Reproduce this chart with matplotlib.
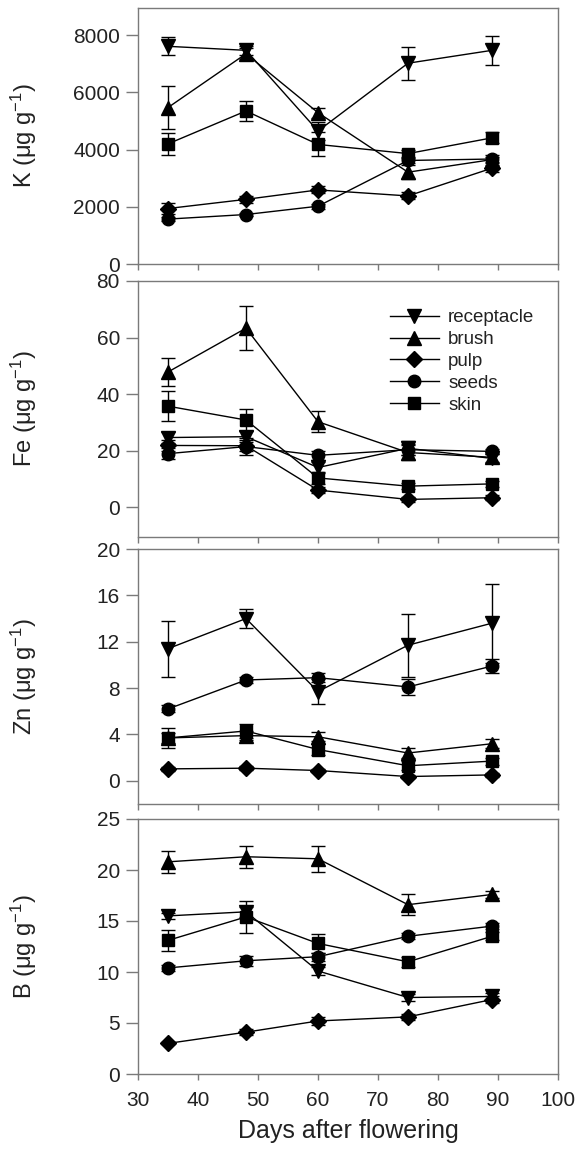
import numpy as np
import matplotlib
matplotlib.use('Agg')
import matplotlib.pyplot as plt
from matplotlib.lines import Line2D

plt.rcParams['font.family'] = ['Liberation Sans', 'DejaVu Sans']
plt.rcParams['mathtext.fontset'] = 'custom'
plt.rcParams['mathtext.rm'] = 'Liberation Sans'
plt.rcParams['mathtext.it'] = 'Liberation Sans:italic'

days = [35, 48, 60, 75, 89]
tissues = ['receptacle', 'brush', 'pulp', 'seeds', 'skin']
markers = {'receptacle': 'v', 'brush': '^', 'pulp': 'D', 'seeds': 'o', 'skin': 's'}
msizes = {'receptacle': 9.5, 'brush': 9.5, 'pulp': 8, 'seeds': 9, 'skin': 8.5}

# K (ug/g)
K_vals = {'receptacle': [7610, 7470, 4650, 7020, 7470],
          'brush':      [5470, 7350, 5290, 3210, 3650],
          'pulp':       [1940, 2260, 2590, 2380, 3350],
          'seeds':      [1570, 1730, 2020, 3620, 3670],
          'skin':       [4200, 5350, 4180, 3860, 4410]}
K_err = {'receptacle': [320, 150, 300, 580, 500],
         'brush':      [740, 200, 170, 250, 100],
         'pulp':       [200, 130, 120, 120, 120],
         'seeds':      [80, 60, 80, 100, 150],
         'skin':       [390, 340, 420, 120, 190]}

# Fe
Fe_vals = {'receptacle': [24.6, 24.9, 14.0, 20.8, 17.2],
           'brush':      [47.8, 63.3, 30.2, 19.3, 17.6],
           'pulp':       [21.8, 21.7, 6.0, 2.7, 3.3],
           'seeds':      [18.9, 21.4, 18.3, 20.3, 19.7],
           'skin':       [35.7, 30.8, 10.3, 7.4, 8.2]}
Fe_err = {'receptacle': [2.0, 2.0, 2.0, 2.5, 1.5],
          'brush':      [4.8, 7.7, 3.7, 2.5, 1.5],
          'pulp':       [2.0, 2.0, 1.0, 0.8, 0.8],
          'seeds':      [2.0, 3.0, 1.5, 2.0, 1.0],
          'skin':       [5.2, 4.0, 2.0, 1.0, 1.0]}

# Zn
Zn_vals = {'receptacle': [11.4, 14.0, 7.7, 11.7, 13.6],
           'brush':      [3.7, 3.9, 3.8, 2.4, 3.2],
           'pulp':       [1.03, 1.09, 0.89, 0.37, 0.51],
           'seeds':      [6.2, 8.7, 8.9, 8.1, 9.9],
           'skin':       [3.7, 4.3, 2.7, 1.3, 1.7]}
Zn_err = {'receptacle': [2.4, 0.85, 1.1, 2.7, 3.4],
          'brush':      [0.4, 0.4, 0.4, 0.4, 0.4],
          'pulp':       [0.15, 0.15, 0.15, 0.15, 0.15],
          'seeds':      [0.3, 0.3, 0.4, 0.7, 0.6],
          'skin':       [0.9, 0.6, 0.5, 0.4, 0.3]}

# B
B_vals = {'receptacle': [15.5, 15.9, 10.1, 7.5, 7.6],
          'brush':      [20.8, 21.3, 21.1, 16.6, 17.6],
          'pulp':       [3.0, 4.1, 5.2, 5.6, 7.3],
          'seeds':      [10.4, 11.1, 11.5, 13.5, 14.5],
          'skin':       [13.1, 15.4, 12.8, 11.0, 13.5]}
B_err = {'receptacle': [0.3, 0.5, 0.4, 0.3, 0.3],
         'brush':      [1.1, 1.1, 1.3, 1.0, 0.3],
         'pulp':       [0.1, 0.3, 0.4, 0.3, 0.3],
         'seeds':      [0.3, 0.5, 0.4, 0.3, 0.3],
         'skin':       [1.05, 1.6, 0.95, 0.5, 0.4]}

panels = [
    ('K', K_vals, K_err, (0, 8950), [0, 2000, 4000, 6000, 8000], (8, 264)),
    ('Fe', Fe_vals, Fe_err, (-10.6, 80), [0, 20, 40, 60, 80], (281, 537)),
    ('Zn', Zn_vals, Zn_err, (-2, 20), [0, 4, 8, 12, 16, 20], (549, 804)),
    ('B', B_vals, B_err, (0, 25), [0, 5, 10, 15, 20, 25], (819, 1074)),
]

W, H = 580, 1149
fig = plt.figure(figsize=(W / 100, H / 100), dpi=100)
spine_col = '#7a7a7a'
text_col = '#222222'
left_px, right_px = 138, 558

axes = []
for i, (name, vals, errs, ylim, yticks, (top_px, bot_px)) in enumerate(panels):
    ax = fig.add_axes([left_px / W, 1 - bot_px / H, (right_px - left_px) / W, (bot_px - top_px) / H])
    for t in tissues:
        ax.errorbar(days, vals[t], yerr=errs[t], color='black', marker=markers[t],
                    markersize=msizes[t], linewidth=1.0, elinewidth=1.0, capsize=5,
                    capthick=1.0, label=t)
    ax.set_xlim(30, 100)
    ax.set_ylim(*ylim)
    ax.set_xticks(range(30, 101, 10))
    ax.set_yticks(yticks)
    for s in ax.spines.values():
        s.set_color(spine_col)
        s.set_linewidth(1.0)
    ax.tick_params(axis='y', direction='out', length=9, width=1.0, color=spine_col,
                   labelsize=15, labelcolor=text_col, pad=4)
    ax.tick_params(axis='x', direction='out', length=4.5, width=1.0, color=spine_col,
                   labelsize=15, labelcolor=text_col, pad=8)
    if i < 3:
        ax.tick_params(axis='x', labelbottom=False)
    ax.set_ylabel(name + r' ($\mathrm{\mu}$g g$^{-1}$)', fontsize=17, color=text_col)
    ax.yaxis.set_label_coords(-0.235, 0.5)
    axes.append(ax)

axes[-1].set_xlabel('Days after flowering', fontsize=18, color=text_col, labelpad=6)

handles = [Line2D([0], [0], color='black', marker=markers[t], markersize=msizes[t],
                  linewidth=1.0) for t in tissues]
axes[1].legend(handles, tissues, loc='upper left', bbox_to_anchor=(0.6, 0.89),
               frameon=False, fontsize=13.5, handlelength=2.6, handletextpad=0.5,
               labelspacing=0.25, borderpad=0, borderaxespad=0, labelcolor=text_col)

fig.savefig('out.png', dpi=100)
